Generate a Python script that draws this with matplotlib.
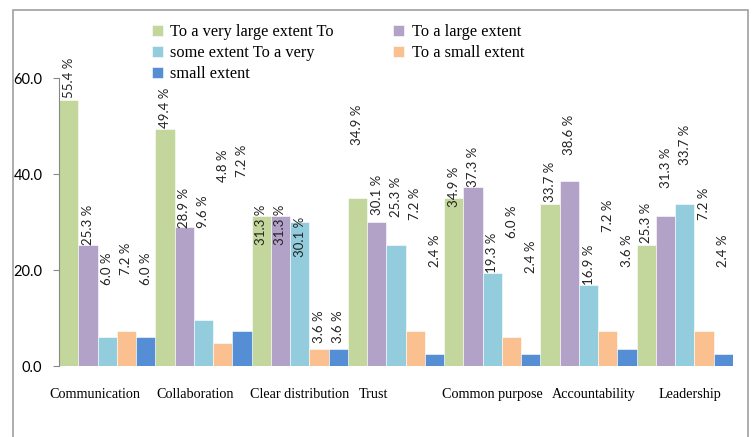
import matplotlib.pyplot as plt
from matplotlib.transforms import ScaledTranslation
import numpy as np

categories = ['Communication', 'Collaboration', 'Clear distribution', 'Trust',
              'Common purpose', 'Accountability', 'Leadership']
series_names = ['To a very large extent To', 'To a large extent', 'some extent To a very',
                'To a small extent', 'small extent']
very_large = [55.4, 49.4, 31.3, 34.9, 34.9, 33.7, 25.3]
large = [25.3, 28.9, 31.3, 30.1, 37.3, 38.6, 31.3]
some = [6.0, 9.6, 30.1, 25.3, 19.3, 16.9, 33.7]
small = [7.2, 4.8, 3.6, 7.2, 6.0, 7.2, 7.2]
very_small = [6.0, 7.2, 3.6, 2.4, 2.4, 3.6, 2.4]

# where the lower end of each data label sits (as placed in the original chart)
label_pos = [
    [55.8, 49.6, 25.2, 46.0, 33.1, 34.2, 25.6],
    [25.2, 28.8, 25.2, 31.5, 37.3, 44.0, 37.1],
    [16.9, 28.8, 22.7, 31.0, 19.4, 16.9, 41.9],
    [19.0, 38.3, 4.8, 30.4, 26.7, 27.9, 30.4],
    [16.9, 39.4, 4.8, 20.6, 19.4, 20.6, 20.6],
]
# horizontal nudge of category labels, in pixels
cat_shift = [-12, -8, 0, -23, 0, 5, 5]

colors = ['#C3D69B', '#B3A2C7', '#93CDDD', '#FAC090', '#558ED5']
values = [very_large, large, some, small, very_small]

fig = plt.figure(figsize=(7.52, 4.37), dpi=100)
ax = fig.add_axes([59 / 752, 71 / 437, 674 / 752, 288 / 437])

n = len(categories)
k = len(values)
handles = []
for j in range(k):
    x = np.arange(n) * k + j + 0.5
    b = ax.bar(x, values[j], width=1.0, color=colors[j], edgecolor='white', linewidth=0.4)
    handles.append(b)
    for xi, v, p in zip(x, values[j], label_pos[j]):
        ax.text(xi, p, '%.1f %%' % v, rotation=90, ha='center', va='bottom',
                fontsize=9.5, family='Lato', color='#222222', clip_on=False)

ax.set_xlim(0, n * k)
ax.set_ylim(0, 60)
ax.set_yticks([0, 20, 40, 60])
ax.set_yticklabels(['0.0', '20.0', '40.0', '60.0'], family='Lato', fontsize=10.5)
ax.set_xticks(np.arange(n) * k + k / 2)
ax.set_xticklabels(categories, family='Liberation Serif', fontsize=10.2)
ax.tick_params(axis='x', length=0, pad=16)
ax.tick_params(axis='y', length=4, width=0.8, color='#888888', pad=8)
for lab, s in zip(ax.get_xticklabels(), cat_shift):
    lab.set_transform(lab.get_transform() + ScaledTranslation(s / 100, 0, fig.dpi_scale_trans))

for side in ['top', 'right', 'bottom']:
    ax.spines[side].set_visible(False)
ax.spines['left'].set_color('#888888')
ax.spines['left'].set_linewidth(0.8)

order = [0, 2, 4, 1, 3]
leg = fig.legend([handles[i] for i in order], [series_names[i] for i in order],
                 ncol=2, loc='upper left', bbox_to_anchor=(152 / 752, 1 - 24 / 437),
                 frameon=False, prop={'family': 'Liberation Serif', 'size': 11.8},
                 handlelength=0.65, handleheight=0.65, handletextpad=0.45,
                 labelspacing=0.3, columnspacing=3.65, borderpad=0, borderaxespad=0)

# outer frame
fig.patches.append(plt.Rectangle((13 / 752, -0.05), 735 / 752, 1.05 - 10 / 437,
                                 transform=fig.transFigure, fill=False,
                                 edgecolor='#A0A0A0', linewidth=1.2))

fig.savefig('out.png', dpi=100)
